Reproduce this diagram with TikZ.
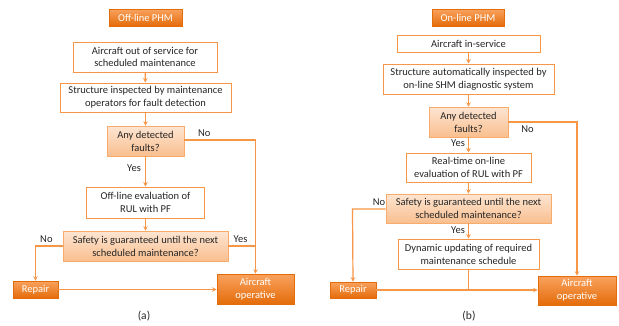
\documentclass[tikz,border=0pt]{standalone}
\usepackage{fontspec}
\setmainfont{Carlito}
\usetikzlibrary{arrows.meta,shadows}
\definecolor{oline}{HTML}{F79646}
\definecolor{odark}{HTML}{E46C0A}
\definecolor{otop}{HTML}{F9A25E}
\definecolor{ltop}{HTML}{FDE5D2}
\definecolor{lbot}{HTML}{F9BF8F}
\definecolor{txt}{HTML}{262626}
\tikzset{
  base/.style={inner sep=1pt, align=center, font=\fontsize{10.5}{12.8}\selectfont, text=txt},
  wbox/.style={base, draw=oline, line width=1pt, fill=white},
  dbox/.style={base, draw=oline!80, line width=0.6pt, top color=ltop, bottom color=lbot,
     drop shadow={opacity=0.25, shadow xshift=1pt, shadow yshift=-1pt}},
  obox/.style={base, text=white, draw=odark, line width=0.6pt, top color=otop, bottom color=odark,
     drop shadow={opacity=0.35, shadow xshift=1.2pt, shadow yshift=-1.2pt}},
  conn/.style={draw=oline, line width=1.2pt},
  arr/.style={conn, -{Stealth[length=4.5pt,width=4.5pt]}},
  lab/.style={font=\fontsize{10.5}{12}\selectfont, text=txt, inner sep=0pt},
}
\begin{document}
\begin{tikzpicture}[x=1pt,y=-1pt]
\useasboundingbox[fill=white] (0,0) rectangle (619,325);
% ---------- left panel ----------
\node[obox, minimum width=73, minimum height=17] (t1) at (145.5,17.5) {Off-line PHM};
\node[wbox, minimum width=144, minimum height=30] (a1) at (145,57) {Aircraft out of service for\\scheduled maintenance};
\node[wbox, minimum width=171, minimum height=29] (a2) at (145.5,97.5) {Structure inspected by maintenance\\operators for fault detection};
\node[dbox, minimum width=77, minimum height=30] (d1) at (145.5,141) {Any detected\\faults?};
\node[wbox, minimum width=118, minimum height=31] (a3) at (145.5,202.5) {Off-line evaluation of\\RUL with PF};
\node[dbox, minimum width=165, minimum height=30] (d2) at (145.5,246) {Safety is guaranteed until the next\\scheduled maintenance?};
\node[obox, minimum width=45, minimum height=17] (rep1) at (35.5,289.5) {Repair};
\node[obox, minimum width=77, minimum height=30] (op1) at (255.5,289) {Aircraft\\operative};
\coordinate (c1) at (255.5,140);
\coordinate (c2) at (35.5,246);
\coordinate (c3) at (255.5,246);

\draw[arr] (a1) -- (a2);
\draw[arr] (a2) -- (d1);
\draw[arr] (d1) -- node[lab, left=4pt, pos=0.4] {Yes} (a3);
\draw[arr] (a3) -- (d2);
\draw[arr] (d1.east |- c1) -- node[lab, above=3pt, pos=0.28] {No} (c1) -- (op1.north);
\draw[arr] (d2.west) -- node[lab, above=3pt, pos=0.6] {No} (c2) -- (rep1.north);
\draw[conn] (d2.east) -- node[lab, above=3pt, pos=0.45] {Yes} (c3);
\draw[arr] (rep1.east) -- (op1.west |- rep1.east);
\node[lab, font=\fontsize{11.5}{13}\selectfont] (la) at (144,316) {(a)};

% ---------- right panel ----------
\node[obox, minimum width=72, minimum height=17] (t2) at (468,17.5) {On-line PHM};
\node[wbox, minimum width=143, minimum height=17] (b1) at (468.5,43.5) {Aircraft in-service};
\node[wbox, minimum width=171, minimum height=30] (b2) at (468.5,79) {Structure automatically inspected by\\on-line SHM diagnostic system};
\node[dbox, minimum width=79, minimum height=30] (e1) at (468.5,122) {Any detected\\faults?};
\node[wbox, minimum width=125, minimum height=29] (b3) at (468.5,167.5) {Real-time on-line\\evaluation of RUL with PF};
\node[dbox, minimum width=165, minimum height=29] (e2) at (468.5,208.5) {Safety is guaranteed until the next\\scheduled maintenance?};
\node[wbox, minimum width=141, minimum height=30] (b4) at (468.5,254) {Dynamic updating of required\\maintenance schedule};
\node[obox, minimum width=46, minimum height=16] (rep2) at (353,290) {Repair};
\node[obox, minimum width=78, minimum height=29] (op2) at (577,290.5) {Aircraft\\operative};
\coordinate (g1) at (577,122);
\coordinate (g2) at (352.5,209);
\coordinate (g3) at (468.5,290);

\draw[arr] (b1) -- (b2);
\draw[arr] (b2) -- (e1);
\draw[arr] (e1) -- node[lab, left=3pt, pos=0.4] {Yes} (b3);
\draw[arr] (b3) -- (e2);
\draw[arr] (e2) -- node[lab, left=3pt, pos=0.45] {Yes} (b4);
\draw[arr] (e1.east) -- node[lab, below=3pt, pos=0.28] {No} (g1) -- (op2.north);
\draw[arr] (e2.west |- g2) -- node[lab, above=3pt, pos=0.2] {No} (g2) -- (rep2.north);
\draw[conn] (b4.south) -- (g3);
\draw[arr] (rep2.east) -- (op2.west |- rep2.east);
\node[lab, font=\fontsize{11.5}{13}\selectfont] (lb) at (469,316) {(b)};
\end{tikzpicture}
\end{document}
